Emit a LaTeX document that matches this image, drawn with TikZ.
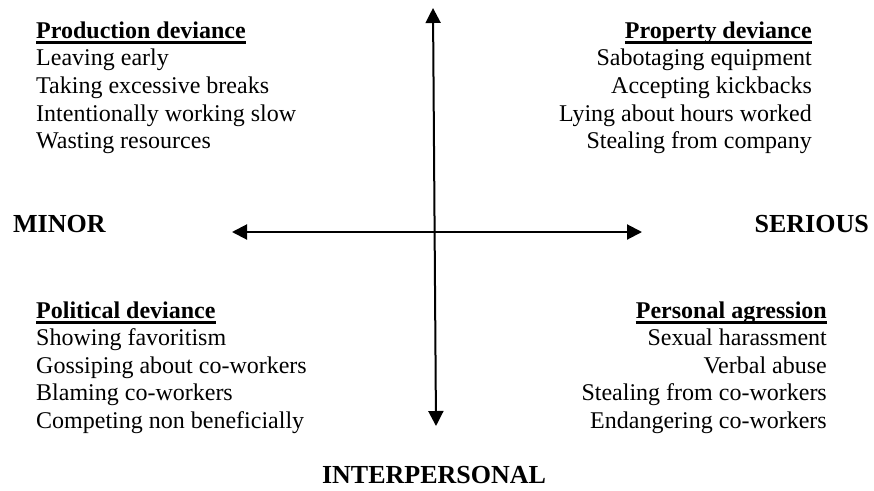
\documentclass[tikz,border=0pt]{standalone}
\usepackage{fontspec}
\setmainfont{Liberation Serif}
\usetikzlibrary{arrows.meta}
\begin{document}
\begin{tikzpicture}[x=1pt,y=-1pt,
  item/.style={inner sep=0pt, font=\fontsize{24}{27.5}\selectfont},
  head/.style={inner sep=0pt, font=\fontsize{24}{27.5}\selectfont\bfseries},
  axislabel/.style={inner sep=0pt, font=\fontsize{26}{30}\selectfont\bfseries},
  axis/.style={line width=2pt, {Triangle[length=15pt,width=15pt]}-{Triangle[length=15pt,width=15pt]}},
  uline/.style={line width=2.6pt}]
\useasboundingbox (0,0) rectangle (874,490);

% axes
\coordinate (left) at (232,232);
\coordinate (right) at (642,232);
\coordinate (top) at (433,8);
\coordinate (bottom) at (436,426);
\draw[axis] (left) -- (right);
\draw[axis] (top) -- (bottom);

% axis labels
\node[axislabel, anchor=base west] (minor) at (13,232) {MINOR};
\node[axislabel, anchor=base east] (serious) at (869,232) {SERIOUS};
\node[axislabel, anchor=base] (inter) at (434,483) {INTERPERSONAL};

% top left
\node[head, anchor=base west] (hTL) at (36,38) {Production deviance};
\draw[uline] ([yshift=-4.5pt]hTL.base west) -- ([yshift=-4.5pt]hTL.base east);
\foreach \t [count=\i] in {Leaving early, Taking excessive breaks, Intentionally working slow, Wasting resources}
  \node[item, anchor=base west] (tl\i) at (36,{38+27.7*\i}) {\t};

% top right
\node[head, anchor=base east] (hTR) at (812,38) {Property deviance};
\draw[uline] ([yshift=-4.5pt]hTR.base west) -- ([yshift=-4.5pt]hTR.base east);
\foreach \t [count=\i] in {Sabotaging equipment, Accepting kickbacks, Lying about hours worked, Stealing from company}
  \node[item, anchor=base east] (tr\i) at (812,{38+27.7*\i}) {\t};

% bottom left
\node[head, anchor=base west] (hBL) at (36,318) {Political deviance};
\draw[uline] ([yshift=-4.5pt]hBL.base west) -- ([yshift=-4.5pt]hBL.base east);
\foreach \t [count=\i] in {Showing favoritism, Gossiping about co-workers, Blaming co-workers, Competing non beneficially}
  \node[item, anchor=base west] (bl\i) at (36,{318+27.6*\i}) {\t};

% bottom right
\node[head, anchor=base east] (hBR) at (827,318) {Personal agression};
\draw[uline] ([yshift=-4.5pt]hBR.base west) -- ([yshift=-4.5pt]hBR.base east);
\foreach \t [count=\i] in {Sexual harassment, Verbal abuse, Stealing from co-workers, Endangering co-workers}
  \node[item, anchor=base east] (br\i) at (827,{318+27.6*\i}) {\t};
\end{tikzpicture}
\end{document}
